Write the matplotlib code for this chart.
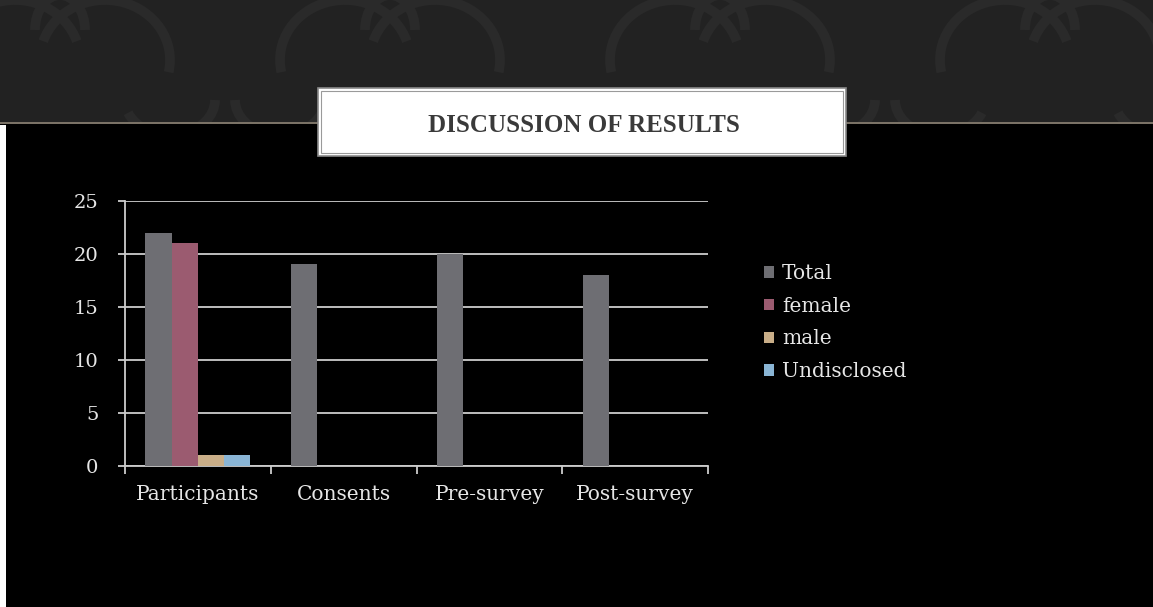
import matplotlib.pyplot as plt
from matplotlib.patches import Rectangle, Arc
import numpy as np

# data
categories = ["Participants", "Consents", "Pre-survey", "Post-survey"]
series_names = ["Total", "female", "male", "Undisclosed"]
total = [22, 19, 20, 18]
female = [21, 0, 0, 0]
male = [1, 0, 0, 0]
undisclosed = [1, 0, 0, 0]
yticks = [0, 5, 10, 15, 20, 25]
title = "DISCUSSION OF RESULTS"

colors = ["#6e6e73", "#9b5b70", "#c9ae88", "#8ab5d5"]
W, H = 1153, 607
fig = plt.figure(figsize=(W / 100, H / 100), dpi=100, facecolor="black")

def fx(px):
    return px / W

def fy(py):
    return 1 - py / H

# top decorative band
band = Rectangle((0, fy(122)), 1, 122 / H, transform=fig.transFigure,
                 facecolor="#222222", edgecolor="none", zorder=0)
fig.patches.append(band)
# faint damask-like curls, kept inside the band
for cx in [60, 390, 720, 1050]:
    for dx, dy, w, h, a1, a2 in [(-45, 60, 130, 120, 30, 200), (45, 60, 130, 120, -20, 150),
                                 (0, 30, 50, 70, 0, 180), (-110, 100, 90, 70, 180, 330),
                                 (110, 100, 90, 70, 210, 360)]:
        arc = Arc((fx(cx + dx), fy(dy)), w / W, h / H, theta1=a1, theta2=a2,
                  transform=fig.transFigure, color="#2a2a2a", lw=7, zorder=0.5)
        arc.set_clip_path(band)
        fig.patches.append(arc)
fig.patches.append(Rectangle((0, fy(124)), 1, 2.5 / H, transform=fig.transFigure,
                             facecolor="#7a7266", edgecolor="none", zorder=1))
# white strip on left edge
fig.patches.append(Rectangle((0, 0), fx(6), fy(125), transform=fig.transFigure,
                             facecolor="white", edgecolor="none", zorder=1))

# title box
fig.patches.append(Rectangle((fx(318), fy(156)), fx(846 - 318), (156 - 88) / H,
                             transform=fig.transFigure, facecolor="white",
                             edgecolor="#8a8a8a", lw=1.2, zorder=2))
fig.patches.append(Rectangle((fx(321), fy(153)), fx(843 - 321), (153 - 91) / H,
                             transform=fig.transFigure, facecolor="none",
                             edgecolor="#9a9a9a", lw=0.8, zorder=3))
fig.text(fx(584), fy(125), title, ha="center", va="center", fontsize=18,
         fontweight="bold", family="Liberation Serif", color="#3a3a3a", zorder=4)

# chart
ax = fig.add_axes([fx(125), 1 - 466 / H, fx(708 - 125), (466 - 200.7) / H])
ax.set_facecolor("black")
x = np.arange(len(categories))
bw = 0.18
offsets = [-1.5 * bw, -0.5 * bw, 0.5 * bw, 1.5 * bw]
for vals, off, c, name in zip([total, female, male, undisclosed], offsets, colors, series_names):
    ax.bar(x + off, vals, bw, color=c, label=name, zorder=3)

ax.set_xlim(-0.5, 3.5)
ax.set_ylim(0, 25)
ax.set_yticks(yticks)
ax.yaxis.grid(True, color="#cccccc", lw=1.3, zorder=1)
ax.set_axisbelow(True)
for s in ["top", "right"]:
    ax.spines[s].set_visible(False)
for s in ["left", "bottom"]:
    ax.spines[s].set_color("#cccccc")
    ax.spines[s].set_linewidth(1.3)

tick_font = dict(family="DejaVu Serif", size=14.5)
ax.set_xticks(x)
ax.set_xticklabels(categories, color="#e6e6e6", fontdict=tick_font)
ax.set_xticks(np.arange(-0.5, 4, 1), minor=True)
ax.tick_params(axis="x", which="major", length=0, pad=14)
ax.tick_params(axis="x", which="minor", length=6, width=1.3, color="#cccccc", direction="out")
ax.tick_params(axis="y", length=5, width=1.3, color="#cccccc", pad=14)
for lab in ax.get_yticklabels():
    lab.set_fontfamily("DejaVu Serif")
    lab.set_fontsize(14)
    lab.set_color("#e6e6e6")

leg = ax.legend(loc="upper left", bbox_to_anchor=(fx(764), fy(264)),
                bbox_transform=fig.transFigure, frameon=False,
                prop={"family": "DejaVu Serif", "size": 14.5},
                handlelength=0.5, handleheight=0.5, handletextpad=0.4,
                labelspacing=0.68, borderpad=0, borderaxespad=0)
for t in leg.get_texts():
    t.set_color("#e6e6e6")

fig.savefig("out.png", dpi=100, facecolor="black")
